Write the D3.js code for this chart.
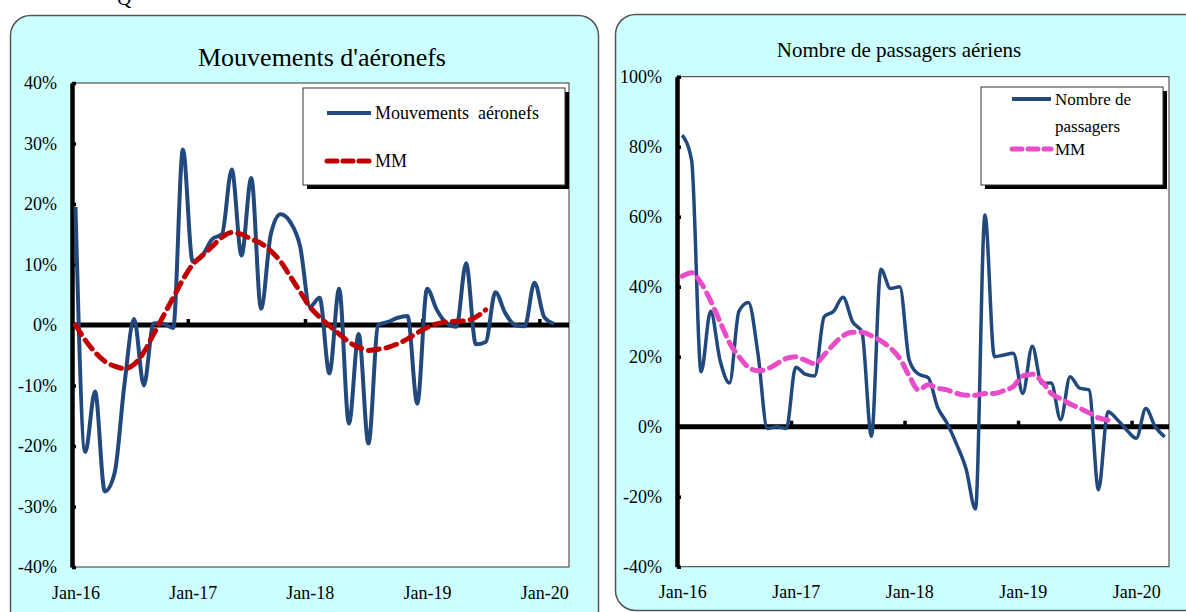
<!DOCTYPE html>
<html>
<head>
<meta charset="utf-8">
<script src="https://cdn.jsdelivr.net/npm/d3@7"></script>
<style>
  body { margin: 0; background: #fff; }
  svg text { font-family: "Liberation Serif", "DejaVu Serif", serif; fill: #000; }
</style>
</head>
<body>
<svg id="chart" width="1186" height="612"></svg>
<script>
// ---------- DATA ----------
const yearLabels = ["Jan-16", "Jan-17", "Jan-18", "Jan-19", "Jan-20"];
const yearTickIndex = [0, 12, 24, 36, 48];
const yearBoundaryIndex = [11.5, 23.5, 35.5, 47.5];

// Mouvements d'aéronefs (%), monthly from Jan-16
const mouvementsValues = [19.5, -21, -11, -27.5, -24.5, -10, 1, -10, 0.3, 0.2,
  -0.5, 29, 10.5, 11.5, 14.2, 15, 25.7, 11.5, 24.3, 2.7,
  15, 18.3, 17, 13, 3, 4.5, -8, 6, -16.3, -1.5,
  -19.6, 0, 0.5, 1.2, 1.5, -13, 6, 2.5, 0.3, -0.3,
  10.2, -3.2, -2.8, 5.4, 2, 0, -0.2, 7, 1.3, 0.2];
const mouvementsMM = [0, -2.5, -4.5, -6, -6.8, -7.2, -6.5, -4.5, -1.5, 1.5,
  4.5, 7.5, 10, 11.5, 13, 14.5, 15.3, 15, 14.2, 13.5,
  12.2, 10.5, 8, 5.5, 3, 1.3, -0.1, -1.5, -2.8, -3.7,
  -4.2, -4, -3.7, -3.1, -2.3, -1.3, -0.4, 0.2, 0.5, 0.6,
  0.7, 1.3, 2.5];
const mouvementsYTicks = [40, 30, 20, 10, 0, -10, -20, -30, -40];

// Nombre de passagers aériens (%), monthly from Jan-16
const passagersValues = [83.3, 76, 15.7, 33, 19, 12.5, 33, 35.5, 21, -0.5,
  0, -0.5, 17, 15, 14.5, 31.4, 33, 37, 30, 27,
  -2.7, 45, 39.5, 40, 19, 15, 14, 5.5, 1, -5,
  -12, -23.5, 60.5, 20, 20.5, 21, 9.5, 23, 12.4, 12.5,
  2, 14.3, 11, 10.5, -18, 4.3, 2, -1, -3.3, 5.2,
  0, -2.9];
const passagersMM = [43, 44, 41, 36, 30, 24, 20, 17, 16, 16.5,
  18, 19.5, 20, 19, 18, 20.5, 23.5, 26, 27, 27,
  26, 24.5, 22.5, 19.5, 14.5, 10.5, 12, 11, 10.5, 9.5,
  9, 9, 9.5, 9.5, 10.3, 11.5, 14.5, 15, 13, 9.5,
  8, 6.5, 5.3, 4, 2.5, 1.9];
const passagersYTicks = [100, 80, 60, 40, 20, 0, -20, -40];

const svg = d3.select("#chart");

// stray fragment of the page text above the charts (cut off in the original too)
svg.append("text")
  .attr("x", 117).attr("y", 5)
  .style("font-size", "20px")
  .text("Q");

function drawPanel(cfg) {
  const g = svg.append("g");

  // panel background
  g.append("rect")
    .attr("x", cfg.frame.x).attr("y", cfg.frame.y)
    .attr("width", cfg.frame.w).attr("height", cfg.frame.h)
    .attr("rx", 20)
    .style("fill", "#ccffff")
    .style("stroke", "#555")
    .style("stroke-width", 1.5);

  // title
  g.append("text")
    .attr("x", cfg.title.x).attr("y", cfg.title.y)
    .attr("text-anchor", "middle")
    .style("font-size", cfg.title.size + "px")
    .text(cfg.title.text);

  const p = cfg.plot;

  // plot area
  g.append("rect")
    .attr("x", p.left).attr("y", p.top)
    .attr("width", p.right - p.left).attr("height", p.bottom - p.top)
    .style("fill", "#fff")
    .style("stroke", "#333")
    .style("stroke-width", 1);

  const x = d3.scaleLinear()
    .domain([0, cfg.xLast])
    .range(cfg.xRange);

  const y = d3.scaleLinear()
    .domain([d3.min(cfg.yTicks), d3.max(cfg.yTicks)])
    .range([p.bottom, p.top]);

  // y axis
  const yAxis = g.append("g")
    .attr("transform", `translate(${p.left}, 0)`)
    .call(d3.axisLeft(y)
      .tickValues(cfg.yTicks)
      .tickSize(-4)
      .tickSizeOuter(0)
      .tickPadding(15)
      .tickFormat(d => d + "%"));
  yAxis.select(".domain").style("stroke", "#000").style("stroke-width", 4.5);
  yAxis.selectAll(".tick line").style("stroke", "#000").style("stroke-width", 3.5);
  yAxis.selectAll("text")
    .style("font-size", "18px")
    .style("font-family", "'Liberation Serif', serif");

  // zero line
  g.append("line")
    .attr("x1", p.left).attr("x2", p.right)
    .attr("y1", y(0)).attr("y2", y(0))
    .style("stroke", "#000")
    .style("stroke-width", 5);

  // year ticks sitting on the zero line
  const zeroTicks = g.append("g")
    .attr("transform", `translate(0, ${y(0)})`)
    .call(d3.axisBottom(x)
      .tickValues(yearBoundaryIndex)
      .tickSize(-6)
      .tickFormat(""));
  zeroTicks.select(".domain").remove();
  zeroTicks.selectAll(".tick line").style("stroke", "#000").style("stroke-width", 3.5);

  // x labels
  const xAxis = g.append("g")
    .attr("transform", `translate(0, ${p.bottom})`)
    .call(d3.axisBottom(x)
      .tickValues(yearTickIndex)
      .tickSize(0)
      .tickPadding(19)
      .tickFormat((d, i) => yearLabels[i]));
  xAxis.select(".domain").remove();
  xAxis.selectAll("text")
    .style("font-size", "18px")
    .style("font-family", "'Liberation Serif', serif");

  const line = d3.line()
    .x((d, i) => x(i))
    .y(d => y(d))
    .curve(d3.curveMonotoneX);

  g.append("path")
    .datum(cfg.values)
    .attr("d", line)
    .style("fill", "none")
    .style("stroke", "#22497e")
    .style("stroke-width", cfg.lineWidth)
    .style("stroke-linejoin", "round");

  g.append("path")
    .datum(cfg.mm)
    .attr("d", line)
    .style("fill", "none")
    .style("stroke", cfg.mmColor)
    .style("stroke-width", 5)
    .style("stroke-dasharray", "11,7")
    .style("stroke-linecap", "round");

  // legend
  const L = cfg.legend;
  g.append("rect")
    .attr("x", L.x + 4).attr("y", L.y + 4)
    .attr("width", L.w).attr("height", L.h)
    .style("fill", "#000");
  g.append("rect")
    .attr("x", L.x).attr("y", L.y)
    .attr("width", L.w).attr("height", L.h)
    .style("fill", "#fff")
    .style("stroke", "#333")
    .style("stroke-width", 1);

  const lg = g.append("g");
  lg.append("line")
    .attr("x1", L.lineX1).attr("x2", L.lineX2)
    .attr("y1", L.y1).attr("y2", L.y1)
    .style("stroke", "#22497e").style("stroke-width", 4);
  lg.selectAll(".lab1")
    .data(L.label1)
    .enter()
    .append("text")
    .attr("class", "lab1")
    .attr("x", L.textX)
    .attr("y", (d, i) => L.y1 + 6 + i * L.lineGap)
    .style("font-size", L.size + "px")
    .style("white-space", "pre")
    .text(d => d);

  lg.append("line")
    .attr("x1", L.lineX1).attr("x2", L.lineX2)
    .attr("y1", L.y2).attr("y2", L.y2)
    .style("stroke", cfg.mmColor).style("stroke-width", 5)
    .style("stroke-dasharray", "10,6")
    .style("stroke-linecap", "round");
  lg.append("text")
    .attr("x", L.textX).attr("y", L.y2 + 6)
    .style("font-size", L.size + "px")
    .text("MM");
}

drawPanel({
  frame: {x: 10.5, y: 15.5, w: 588, h: 620},
  title: {text: "Mouvements d'aéronefs", x: 322, y: 66, size: 26},
  plot: {left: 72, top: 83, right: 569, bottom: 567},
  xLast: 49,
  xRange: [75.5, 554],
  yTicks: mouvementsYTicks,
  values: mouvementsValues,
  mm: mouvementsMM,
  mmColor: "#c00000",
  lineWidth: 4,
  legend: {x: 303, y: 88, w: 262, h: 97, lineX1: 327, lineX2: 371, textX: 375,
           y1: 113, y2: 161, lineGap: 20, size: 18, label1: ["Mouvements  aéronefs"]}
});

drawPanel({
  frame: {x: 615.5, y: 14.5, w: 590, h: 596},
  title: {text: "Nombre de passagers aériens", x: 899, y: 57, size: 21},
  plot: {left: 677, top: 76.7, right: 1169, bottom: 566.7},
  xLast: 51,
  xRange: [682.2, 1164.7],
  yTicks: passagersYTicks,
  values: passagersValues,
  mm: passagersMM,
  mmColor: "#e84cc8",
  lineWidth: 3.5,
  legend: {x: 981, y: 87, w: 182, h: 98, lineX1: 1012, lineX2: 1051, textX: 1055,
           y1: 99, y2: 149, lineGap: 27, size: 17, label1: ["Nombre de", "passagers"]}
});
</script>
</body>
</html>
